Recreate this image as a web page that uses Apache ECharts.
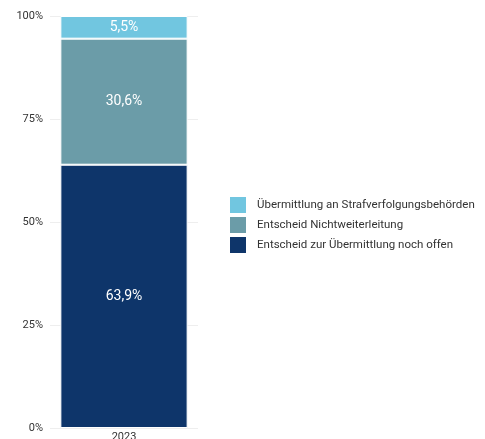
<!DOCTYPE html>
<html><head><meta charset="utf-8">
<script src="https://cdn.jsdelivr.net/npm/echarts@6/dist/echarts.min.js"></script>
<style>html,body{margin:0;padding:0;background:#fff}#c{width:485px;height:439px}</style>
</head><body><div id="c"></div>
<script>
var categories = ['2023'];
var seriesNames = ['Entscheid zur Übermittlung noch offen', 'Entscheid Nichtweiterleitung', 'Übermittlung an Strafverfolgungsbehörden'];
var offen = [63.9];
var nichtweiter = [30.6];
var uebermittlung = [5.5];
var yTicks = [0, 25, 50, 75, 100];
var colors = ['#0e356a', '#6b9ca8', '#71c6e0'];
var values = [offen, nichtweiter, uebermittlung];

var chart = echarts.init(document.getElementById('c'), null, {renderer: 'canvas'});
var font = 'Roboto, "Noto Sans", sans-serif';
chart.setOption({
  animation: false,
  textStyle: {fontFamily: font},
  grid: {left: 50, right: 287, top: 16, bottom: 11, containLabel: false, outerBoundsMode: 'none'},
  legend: {
    orient: 'vertical', left: 230, top: 197, padding: 0,
    itemWidth: 16, itemHeight: 16, itemGap: 4,
    icon: 'rect',
    itemStyle: {borderWidth: 0},
    data: [seriesNames[2], seriesNames[1], seriesNames[0]],
    textStyle: {fontSize: 11.5, color: '#333', fontFamily: font, padding: [0, 0, 0, 6]}
  },
  xAxis: {
    type: 'category', data: categories,
    axisLine: {show: false}, axisTick: {show: false},
    axisLabel: {fontSize: 11, color: '#333', margin: 4, fontFamily: font}
  },
  yAxis: {
    type: 'value', min: yTicks[0], max: yTicks[yTicks.length - 1], interval: 25,
    axisLine: {show: false}, axisTick: {show: false},
    splitLine: {lineStyle: {color: '#eeeeee', width: 1}},
    axisLabel: {fontSize: 11, color: '#333', margin: 7, formatter: '{value}%', fontFamily: font}
  },
  series: values.map(function (v, i) {
    return {
      name: seriesNames[i], type: 'bar', stack: 'total', data: v,
      barWidth: '86%',
      itemStyle: {color: colors[i], borderColor: '#ffffff', borderWidth: 1},
      label: {
        show: true, position: 'inside', color: '#fff', fontSize: 14, fontFamily: font,
        formatter: function (p) { return String(p.value).replace('.', ',') + '%'; }
      }
    };
  })
});
</script></body></html>
